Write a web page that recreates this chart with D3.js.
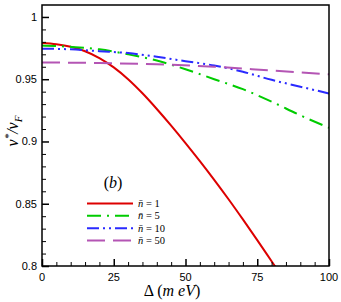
<!DOCTYPE html>
<html>
<head>
<meta charset="utf-8">
<script src="https://cdn.jsdelivr.net/npm/d3@7"></script>
<style>
  body { margin: 0; background: #fff; }
  svg { display: block; }
  .serif { font-family: 'Liberation Serif', 'DejaVu Serif', serif; }
  .sans { font-family: 'Liberation Sans', Arial, sans-serif; }
</style>
</head>
<body>
<div id="chart"></div>
<script>
// values
const deltaRed = [0, 5, 10, 15, 20, 25, 30, 35, 40, 45, 50, 55, 60, 65, 70, 75, 80, 85];
const vRed = [0.979, 0.978, 0.976, 0.9725, 0.967, 0.9595, 0.950, 0.9387, 0.9261, 0.9127, 0.8987, 0.8842, 0.8692, 0.8536, 0.8374, 0.8208, 0.8038, 0.7868];
const deltaGrid = [0, 10, 20, 30, 40, 50, 60, 70, 80, 90, 100];
const vGreen = [0.977, 0.976, 0.974, 0.970, 0.965, 0.958, 0.950, 0.942, 0.932, 0.921, 0.911];
const vBlue = [0.9745, 0.974, 0.9725, 0.971, 0.968, 0.9645, 0.961, 0.956, 0.9495, 0.944, 0.9386];
const deltaPurple = [0, 20, 40, 60, 80, 100];
const vPurple = [0.9635, 0.963, 0.962, 0.960, 0.957, 0.954];
const legendLabels = ["1", "5", "10", "50"];
const xTicks = [0, 25, 50, 75, 100];
const yTicks = [0.8, 0.85, 0.9, 0.95, 1];

const series = [
  { xs: deltaRed, ys: vRed, color: "#dd0000", dash: null },
  { xs: deltaGrid, ys: vGreen, color: "#00cc00", dash: "14,6,2,6" },
  { xs: deltaGrid, ys: vBlue, color: "#2a2aff", dash: "12,4,2,4,2,4" },
  { xs: deltaPurple, ys: vPurple, color: "#b455b4", dash: "18,8" }
];

const W = 341, H = 302;
const margin = { left: 42, top: 5, right: 12, bottom: 36 };

const x = d3.scaleLinear().domain([0, 100]).range([margin.left, W - margin.right]);
const y = d3.scaleLinear().domain([0.8, 1.0096]).range([H - margin.bottom, margin.top]);

const svg = d3.select("#chart").append("svg")
  .attr("width", W)
  .attr("height", H);

svg.append("defs").append("clipPath").attr("id", "plot")
  .append("rect")
  .attr("x", margin.left).attr("y", margin.top)
  .attr("width", x(100) - margin.left)
  .attr("height", y(0.8) - margin.top);

// curves
const g = svg.append("g").attr("clip-path", "url(#plot)");
series.forEach(s => {
  const pts = s.xs.map((d, i) => [d, s.ys[i]]);
  g.append("path")
    .datum(pts)
    .attr("fill", "none")
    .attr("stroke", s.color)
    .attr("stroke-width", 2)
    .attr("stroke-dasharray", s.dash)
    .attr("d", d3.line().x(d => x(d[0])).y(d => y(d[1])).curve(d3.curveMonotoneX));
});

// minor ticks (inward)
const xMinor = d3.range(0, 101, 5).filter(v => v % 25 !== 0);
svg.append("g")
  .attr("transform", `translate(0,${y(0.8)})`)
  .call(d3.axisTop(x).tickValues(xMinor).tickSize(4).tickFormat(""))
  .call(a => a.select(".domain").remove());
const yMinor = d3.range(80, 101, 1).map(v => v / 100).filter(v => Math.round(v * 100) % 5 !== 0);
svg.append("g")
  .attr("transform", `translate(${margin.left},0)`)
  .call(d3.axisRight(y).tickValues(yMinor).tickSize(4).tickFormat(""))
  .call(a => a.select(".domain").remove());

// major ticks
svg.append("g")
  .attr("transform", `translate(0,${y(0.8)})`)
  .call(d3.axisTop(x).tickValues(xTicks).tickSize(7).tickFormat(""))
  .call(a => a.select(".domain").remove())
  .selectAll("line").attr("stroke-width", 1.5);
svg.append("g")
  .attr("transform", `translate(${margin.left},0)`)
  .call(d3.axisRight(y).tickValues(yTicks).tickSize(7).tickFormat(""))
  .call(a => a.select(".domain").remove())
  .selectAll("line").attr("stroke-width", 1.5);

// frame
svg.append("rect")
  .attr("x", margin.left).attr("y", margin.top)
  .attr("width", x(100) - margin.left)
  .attr("height", y(0.8) - margin.top)
  .attr("fill", "none")
  .attr("stroke", "#000")
  .attr("stroke-width", 1.5);

// tick labels
svg.selectAll(".xl").data(xTicks).join("text")
  .attr("class", "sans")
  .attr("x", d => x(d)).attr("y", y(0.8) + 15)
  .attr("text-anchor", "middle")
  .style("font-size", "11px")
  .text(d => d);
svg.selectAll(".yl").data(yTicks).join("text")
  .attr("class", "sans")
  .attr("x", margin.left - 5).attr("y", d => y(d) + 4)
  .attr("text-anchor", "end")
  .style("font-size", "11px")
  .text(d => d);

// axis titles
const xt = svg.append("text")
  .attr("class", "serif")
  .attr("x", 172).attr("y", 296)
  .attr("text-anchor", "middle")
  .style("font-size", "16px");
xt.append("tspan").text("Δ (");
xt.append("tspan").style("font-style", "italic").text("m eV");
xt.append("tspan").text(")");

const yt = svg.append("text")
  .attr("class", "serif")
  .attr("transform", "translate(18,131) rotate(-90)")
  .attr("text-anchor", "middle")
  .style("font-size", "16px")
  .style("font-style", "italic");
yt.append("tspan").text("v");
yt.append("tspan").attr("dy", -6).style("font-size", "11px").text("*");
yt.append("tspan").attr("dy", 6).text("/v");
yt.append("tspan").attr("dy", 4).style("font-size", "11px").text("F");

// legend
svg.append("text")
  .attr("class", "serif")
  .attr("x", 113).attr("y", 188)
  .attr("text-anchor", "middle")
  .style("font-size", "16px")
  .html('(<tspan font-style="italic">b</tspan>)');

const legendY = d3.scalePoint().domain(legendLabels).range([203.5, 240.5]);
series.forEach((s, i) => {
  const ly = legendY(legendLabels[i]);
  svg.append("line")
    .attr("x1", 87).attr("x2", 133)
    .attr("y1", ly).attr("y2", ly)
    .attr("stroke", s.color)
    .attr("stroke-width", 2)
    .attr("stroke-dasharray", s.dash);
  const t = svg.append("text")
    .attr("class", "serif")
    .attr("x", 138).attr("y", ly + 3.5)
    .style("font-size", "10.5px");
  t.append("tspan").style("font-style", "italic").text("n\u0304");
  t.append("tspan").text(" = " + legendLabels[i]);
});
</script>
</body>
</html>
